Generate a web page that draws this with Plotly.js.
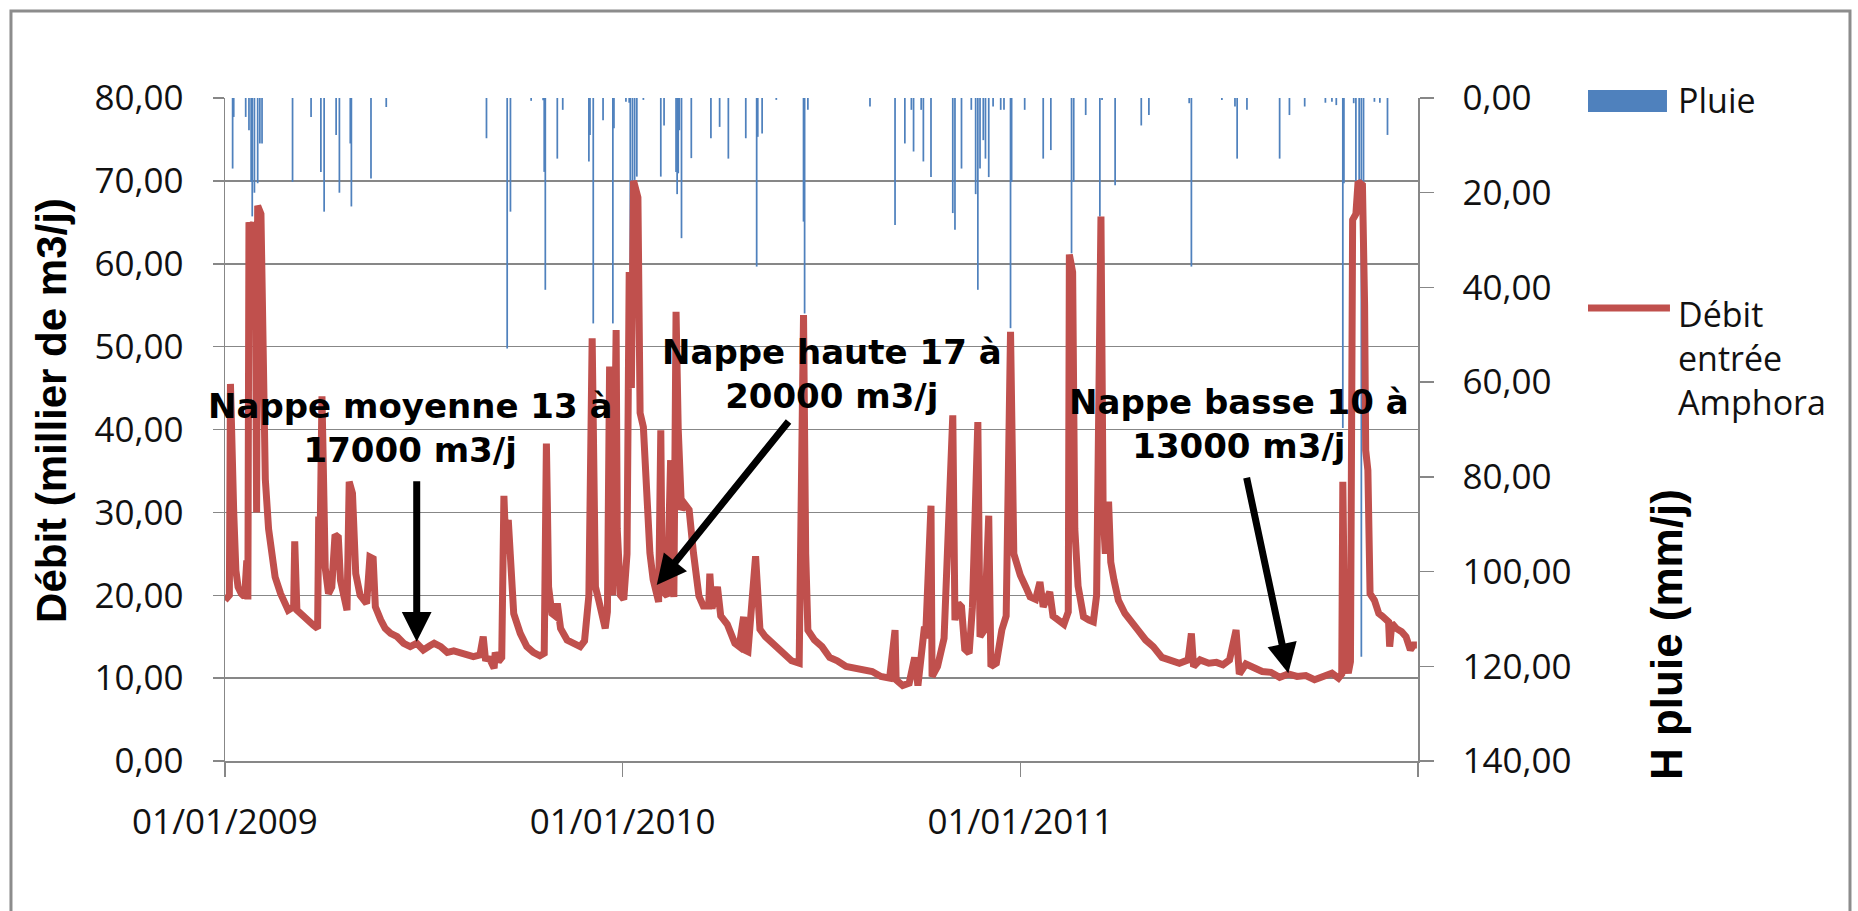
<!DOCTYPE html>
<html><head><meta charset="utf-8">
<script src="https://cdn.plot.ly/plotly-3.0.1.min.js"></script>
<style>html,body{margin:0;padding:0;background:#fff;}#chart{width:1858px;height:911px;}</style>
</head><body><div id="chart"></div>
<script>
// Débit entrée Amphora (milliers de m3/j)
const debitDates = ['2009-01-01','2009-01-03','2009-01-05','2009-01-06','2009-01-07','2009-01-09','2009-01-11','2009-01-13','2009-01-16','2009-01-19','2009-01-21','2009-01-22','2009-01-23','2009-01-25','2009-01-27','2009-01-29','2009-01-30','2009-01-31','2009-02-03','2009-02-05','2009-02-07','2009-02-10','2009-02-13','2009-02-16','2009-02-21','2009-02-25','2009-02-28','2009-03-05','2009-03-06','2009-03-08','2009-03-11','2009-03-17','2009-03-23','2009-03-27','2009-03-28','2009-03-29','2009-03-31','2009-04-01','2009-04-03','2009-04-06','2009-04-09','2009-04-12','2009-04-15','2009-04-17','2009-04-20','2009-04-23','2009-04-25','2009-04-28','2009-05-01','2009-05-05','2009-05-11','2009-05-14','2009-05-17','2009-05-19','2009-05-24','2009-05-28','2009-06-02','2009-06-08','2009-06-14','2009-06-20','2009-06-26','2009-07-02','2009-07-08','2009-07-12','2009-07-18','2009-07-24','2009-07-30','2009-08-05','2009-08-11','2009-08-17','2009-08-23','2009-08-26','2009-08-28','2009-09-01','2009-09-05','2009-09-06','2009-09-09','2009-09-12','2009-09-14','2009-09-16','2009-09-18','2009-09-20','2009-09-23','2009-09-29','2009-10-05','2009-10-11','2009-10-17','2009-10-21','2009-10-23','2009-10-24','2009-10-25','2009-10-28','2009-10-31','2009-11-02','2009-11-03','2009-11-05','2009-11-11','2009-11-17','2009-11-23','2009-11-27','2009-11-29','2009-12-01','2009-12-04','2009-12-05','2009-12-07','2009-12-10','2009-12-13','2009-12-16','2009-12-18','2009-12-20','2009-12-21','2009-12-23','2009-12-26','2009-12-27','2009-12-30','2010-01-02','2010-01-05','2010-01-07','2010-01-09','2010-01-11','2010-01-15','2010-01-17','2010-01-20','2010-01-23','2010-01-26','2010-01-29','2010-02-01','2010-02-03','2010-02-05','2010-02-06','2010-02-08','2010-02-11','2010-02-14','2010-02-15','2010-02-17','2010-02-19','2010-02-21','2010-02-24','2010-02-27','2010-03-03','2010-03-07','2010-03-12','2010-03-16','2010-03-21','2010-03-22','2010-03-24','2010-03-29','2010-04-01','2010-04-07','2010-04-11','2010-04-14','2010-04-18','2010-04-22','2010-04-23','2010-04-26','2010-05-03','2010-05-05','2010-05-07','2010-05-12','2010-05-18','2010-05-24','2010-05-30','2010-06-05','2010-06-12','2010-06-16','2010-06-18','2010-06-20','2010-06-26','2010-07-03','2010-07-10','2010-07-17','2010-07-25','2010-08-02','2010-08-10','2010-08-18','2010-08-26','2010-09-03','2010-09-08','2010-09-09','2010-09-15','2010-09-21','2010-09-26','2010-09-29','2010-10-05','2010-10-06','2010-10-11','2010-10-12','2010-10-17','2010-10-23','2010-10-31','2010-11-02','2010-11-05','2010-11-08','2010-11-11','2010-11-15','2010-11-18','2010-11-23','2010-11-25','2010-11-29','2010-12-03','2010-12-05','2010-12-10','2010-12-15','2010-12-19','2010-12-23','2010-12-26','2010-12-28','2011-01-01','2011-01-06','2011-01-10','2011-01-15','2011-01-19','2011-01-22','2011-01-28','2011-01-31','2011-02-05','2011-02-10','2011-02-14','2011-02-15','2011-02-18','2011-02-20','2011-02-23','2011-02-28','2011-03-05','2011-03-09','2011-03-12','2011-03-16','2011-03-18','2011-03-20','2011-03-23','2011-03-25','2011-03-28','2011-04-01','2011-04-07','2011-04-13','2011-04-19','2011-04-26','2011-05-03','2011-05-11','2011-05-19','2011-05-27','2011-06-04','2011-06-07','2011-06-09','2011-06-15','2011-06-23','2011-06-30','2011-07-06','2011-07-12','2011-07-18','2011-07-21','2011-07-27','2011-08-03','2011-08-11','2011-08-19','2011-08-27','2011-09-04','2011-09-12','2011-09-20','2011-09-28','2011-10-06','2011-10-14','2011-10-20','2011-10-23','2011-10-24','2011-10-26','2011-10-29','2011-10-31','2011-11-02','2011-11-05','2011-11-07','2011-11-11','2011-11-13','2011-11-14','2011-11-16','2011-11-18','2011-11-22','2011-11-26','2011-11-29','2011-12-02','2011-12-05','2011-12-06','2011-12-08','2011-12-12','2011-12-17','2011-12-21','2011-12-25','2011-12-28','2011-12-31'];
const debitValues = [19.4,19.6,20.0,45.5,38,30,23,21,20.2,19.8,24.2,19.5,65,64,65,56,30,67,66,48,34,28,24.2,22.2,20.2,19.0,18.2,18.6,26.5,18.2,17.8,17.2,16.4,16.0,29.5,24,44,38,23.3,20.2,21,27.3,27,21.8,20,18.2,33.7,32.3,22.6,20,19,24.6,24.4,18.6,17,16,15.4,15,14.2,13.8,14.2,13.4,13.9,14.2,13.8,13.1,13.3,13.1,12.9,12.6,12.8,15,12.4,12.3,11.2,13.1,12,12.5,32,25,29.1,24,17.8,15.4,13.8,13.1,12.7,13,38.3,30,21,17.8,17.5,19,17.5,16,14.6,14.2,13.8,14.5,19,20,51,30,21,19.4,17.5,16,18,47.6,25,20,52,28,20,19.5,25,59,45,70,68,42,40.3,33.1,25.1,21.9,20.3,19.2,39.9,25,20.3,19.9,36.3,22,19.8,54.2,40,30.3,31,30.3,25.1,19.9,18.7,18.7,22.6,18.4,21,17.5,16.5,15.4,14.2,13.8,17.4,13.4,13.2,24.7,20.6,15.9,15.0,14.2,13.4,12.9,12.1,11.8,53.8,25,15.8,14.6,13.8,12.5,12.1,11.4,11.2,11.0,10.8,10.2,10.0,15.8,9.8,9.1,9.4,12.5,9.1,16.2,14.8,30.8,10.2,11.4,14.8,41.7,17,19,18.6,13.5,13,18.5,40.9,15,15.8,29.6,11.4,11.8,15.8,17.5,51.8,25,23.9,22.4,21,19.8,19.5,21.6,18.6,20.4,17.5,17,16.5,18,61.1,59,28,21.1,17.4,17,16.8,20,65.7,30,25,31.3,24,21.8,19.4,17.8,16.9,15.8,14.6,13.8,12.5,12.2,11.8,12.2,15.4,11.4,12.2,11.8,11.9,11.6,12.2,15.8,10.5,11.7,11.2,10.8,10.7,10.1,10.5,10.2,10.3,9.8,10.2,10.6,10.0,10.5,33.7,12,10.6,12,65.3,66,69.9,69.5,55,37.5,35.1,20.2,19.4,17.8,17.5,17.0,16.8,13.8,16.6,16.0,15.6,15.0,13.4,14.0,14.0];

// Pluie (mm/j)
const pluieDates = ['2009-01-08','2009-01-09','2009-01-20','2009-01-23','2009-01-25','2009-01-26','2009-01-28','2009-01-31','2009-02-02','2009-02-04','2009-03-04','2009-03-21','2009-03-30','2009-04-02','2009-04-13','2009-04-16','2009-04-26','2009-04-27','2009-05-15','2009-05-29','2009-08-29','2009-09-17','2009-09-20','2009-10-09','2009-10-20','2009-10-21','2009-10-22','2009-11-02','2009-11-07','2009-12-01','2009-12-02','2009-12-05','2009-12-14','2009-12-23','2009-12-24','2010-01-04','2010-01-07','2010-01-08','2010-01-10','2010-01-12','2010-01-14','2010-01-20','2010-02-05','2010-02-08','2010-02-19','2010-02-20','2010-02-21','2010-02-22','2010-02-24','2010-03-05','2010-03-23','2010-03-31','2010-04-08','2010-04-24','2010-05-04','2010-05-05','2010-05-09','2010-05-22','2010-06-16','2010-06-17','2010-06-20','2010-08-16','2010-09-08','2010-09-17','2010-09-23','2010-09-25','2010-10-02','2010-10-04','2010-10-11','2010-10-31','2010-11-02','2010-11-08','2010-11-17','2010-11-21','2010-11-23','2010-11-25','2010-11-28','2010-11-30','2010-12-03','2010-12-07','2010-12-14','2010-12-17','2010-12-23','2010-12-24','2011-01-05','2011-01-22','2011-01-29','2011-02-17','2011-02-19','2011-03-02','2011-03-15','2011-03-17','2011-03-29','2011-04-22','2011-04-29','2011-06-05','2011-06-07','2011-07-05','2011-07-17','2011-07-19','2011-07-28','2011-08-27','2011-09-05','2011-09-19','2011-10-08','2011-10-14','2011-10-18','2011-10-24','2011-10-25','2011-11-03','2011-11-05','2011-11-08','2011-11-10','2011-11-12','2011-11-22','2011-11-27','2011-12-04'];
const pluieValues = [14.9,4,4,6.8,17.7,25,20,18,9.6,9.6,17.7,4,15.6,24,7.8,20,9.6,22.9,17,1.9,8.5,52.9,24,0.6,0.5,15.6,40.5,12.8,2.5,13.4,7.8,47.6,4.7,47.6,6.4,0.8,1.0,36.3,20.1,17.3,16.6,0.4,16.6,5.8,15.6,20.3,15.9,6.8,29.6,12.7,8.5,6.1,12.8,8.5,35.6,8.2,7.5,0.4,26.1,45.5,2.5,1.8,26.8,9.6,2.5,11.3,2.5,13.4,16.7,24.3,27.8,14.9,2.5,20.3,40.5,14.9,8.9,12.8,16.7,1.8,2.5,2.5,48.6,17.7,2.5,12.8,11,32.8,17.7,3.6,25,0.4,18.4,5.8,3.6,1.1,35.6,0.4,1.8,12.8,2.5,12.8,3.6,1.8,1.0,0.8,1.5,69.7,18,1.1,17.7,17.7,118,17.7,0.8,1.0,7.8];

const xTickDates = ['2009-01-01','2010-01-01','2011-01-01','2012-01-01'];
const xTickLabels = ['01/01/2009','01/01/2010','01/01/2011',''];
const seriesNames = ['Pluie','Débit<br>entrée<br>Amphora'];
const yTitleLeft = 'Débit (millier de m3/j)';
const yTitleRight = 'H pluie (mm/j)';
const notes = ['Nappe moyenne 13 à<br>17000 m3/j','Nappe haute 17 à<br>20000 m3/j','Nappe basse 10 à<br>13000 m3/j'];

const BLUE = '#4F81BD', RED = '#C0504D', GRID = '#878787', TXT = '#111111';
const tickFont = {family:'Open Sans', size:35, color:TXT};
const legendFont = {family:'Open Sans', size:34, color:TXT};
const noteFont = {family:'DejaVu Sans', size:34, color:'#000'};
const titleFont = {family:'Liberation Sans', size:42, color:'#000'};

const traces = [
  {type:'bar', name:'Pluie', x:pluieDates, y:pluieValues, yaxis:'y', xaxis:'x',
   width:1.6*86400000, marker:{color:BLUE, line:{width:0}}, hoverinfo:'x+y'},
  {type:'scatter', mode:'lines', name:'Débit entrée Amphora', x:debitDates, y:debitValues, yaxis:'y2', xaxis:'x',
   line:{color:RED, width:7}}
];

const layout = {
  width:1858, height:911,
  margin:{l:225, r:440, t:98, b:150, pad:0},
  paper_bgcolor:'#ffffff', plot_bgcolor:'#ffffff',
  separators:', ',
  showlegend:false,
  font:tickFont,
  xaxis:{type:'date', range:['2009-01-01','2012-01-01'], tickmode:'array', tickvals:xTickDates, ticktext:xTickLabels,
    ticks:'outside', ticklen:14, tickwidth:1.5, tickcolor:GRID, showline:true, linecolor:GRID, linewidth:1.5,
    showgrid:false, zeroline:false, ticklabelstandoff:15, tickfont:tickFont},
  yaxis:{side:'right', range:[140,0], autorange:false, tick0:0, dtick:20, tickformat:'.2f',
    ticks:'outside', ticklen:14, tickwidth:1.5, tickcolor:GRID, showline:true, linecolor:GRID, linewidth:1.5,
    showgrid:false, zeroline:false, ticklabelstandoff:22, tickfont:tickFont},
  yaxis2:{overlaying:'y', side:'left', range:[0,80], autorange:false, tick0:0, dtick:10, tickformat:'.2f',
    ticks:'outside', ticklen:11, tickwidth:1.5, tickcolor:GRID, showline:true, linecolor:GRID, linewidth:1.5,
    showgrid:true, gridcolor:GRID, gridwidth:1.5, zeroline:false, ticklabelstandoff:22, tickfont:tickFont},
  shapes:[
    {type:'rect', xref:'paper', yref:'paper', x0:-0.1794, x1:1.3621, y0:-0.2398, y1:1.1312,
     line:{color:'#8c8c8c', width:3}, fillcolor:'rgba(0,0,0,0)', layer:'below'},
    {type:'rect', xref:'paper', yref:'paper', x0:1.1425, x1:1.2087, y0:0.9789, y1:1.0121,
     line:{width:0}, fillcolor:BLUE},
    {type:'line', xref:'paper', yref:'paper', x0:1.1425, x1:1.2112, y0:0.6833, y1:0.6833,
     line:{color:RED, width:7}}
  ],
  annotations:[
    {xref:'paper', yref:'paper', x:1.2163, y:0.997, xanchor:'left', yanchor:'middle', text:seriesNames[0], showarrow:false, font:legendFont},
    {xref:'paper', yref:'paper', x:1.2163, y:0.6078, xanchor:'left', yanchor:'middle', align:'left', text:seriesNames[1], showarrow:false, font:legendFont},
    {xref:'paper', yref:'paper', x:-0.1459, y:0.5294, xanchor:'center', yanchor:'middle', textangle:-90, text:'<b>'+yTitleLeft+'</b>', showarrow:false, font:titleFont},
    {xref:'paper', yref:'paper', x:1.2079, y:0.19, xanchor:'center', yanchor:'middle', textangle:-90, text:'<b>'+yTitleRight+'</b>', showarrow:false, font:Object.assign({}, titleFont, {size:44})},
    {xref:'paper', yref:'paper', x:0.1551, y:0.5023, xanchor:'center', yanchor:'middle', align:'center', text:'<b>'+notes[0]+'</b>', showarrow:false, font:noteFont},
    {xref:'paper', yref:'paper', x:0.5092, y:0.5837, xanchor:'center', yanchor:'middle', align:'center', text:'<b>'+notes[1]+'</b>', showarrow:false, font:noteFont},
    {xref:'paper', yref:'paper', x:0.85, y:0.5083, xanchor:'center', yanchor:'middle', align:'center', text:'<b>'+notes[2]+'</b>', showarrow:false, font:noteFont},
    {xref:'paper', yref:'paper', x:0.1607, y:0.18, ax:0, ay:-162, text:'', showarrow:true, arrowhead:2, arrowsize:0.85, arrowwidth:7, arrowcolor:'#000'},
    {xref:'paper', yref:'paper', x:0.3619, y:0.2655, ax:133, ay:-165, text:'', showarrow:true, arrowhead:2, arrowsize:0.85, arrowwidth:7, arrowcolor:'#000'},
    {xref:'paper', yref:'paper', x:0.8913, y:0.1323, ax:-42, ay:-197, text:'', showarrow:true, arrowhead:2, arrowsize:0.85, arrowwidth:7, arrowcolor:'#000'}
  ]
};

Plotly.newPlot('chart', traces, layout, {displayModeBar:false, staticPlot:true});
</script>
</body></html>
